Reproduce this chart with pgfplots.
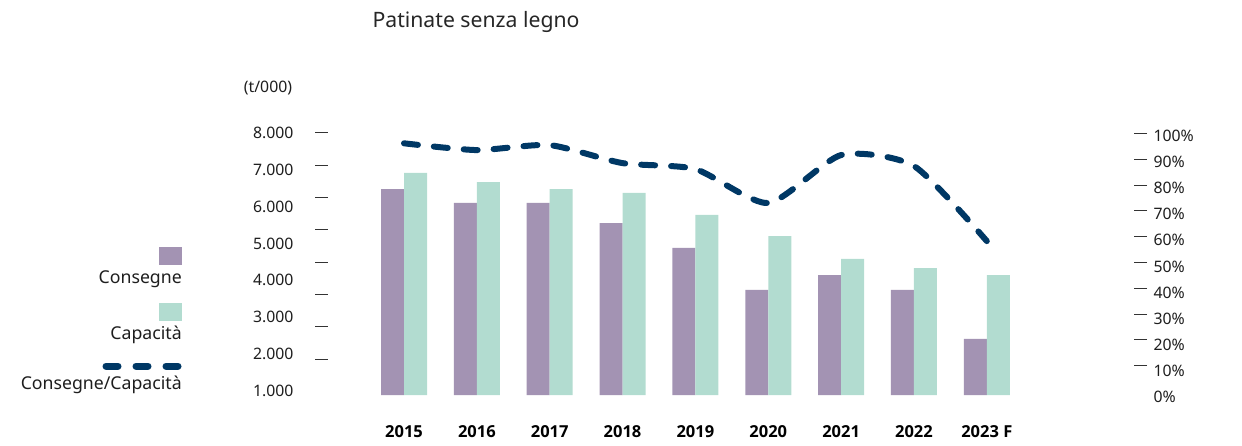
\documentclass[border=0pt]{standalone}
\usepackage{pgfplots}
\pgfplotsset{compat=1.18}
\usepackage{fontspec}
\setmainfont{Noto Sans}
\newfontfamily\yrfont{Open Sans}
\definecolor{cons}{RGB}{163,147,179}
\definecolor{capa}{RGB}{178,220,208}
\definecolor{ratio}{RGB}{0,56,101}
\definecolor{txt}{RGB}{30,30,30}
\begin{document}
\begin{tikzpicture}[x=1pt,y=1pt,font=\fontsize{15}{18}\selectfont]
\useasboundingbox (0,0) rectangle (1242,445);
\begin{axis}[
  at={(328pt,50pt)}, anchor=south west,
  scale only axis, width=806pt, height=275pt,
  xmin=-1.0432, xmax=10.0206,
  ymin=891.6, ymax=8344,
  axis line style={draw=none},
  ybar=0pt, bar width=23pt,
  xtick={0,...,8},
  xticklabels={2015,2016,2017,2018,2019,2020,2021,2022,2023 F},
  xticklabel style={font=\yrfont\bfseries\fontsize{16.5}{19}\selectfont, text=black, yshift=-27pt},
  ytick={1000,2000,...,8000},
  yticklabels={1.000,2.000,3.000,4.000,5.000,6.000,7.000,8.000},
  yticklabel style={font=\fontsize{15.8}{18}\selectfont, text=txt, xshift=-31pt},
  ytick pos=left, xtick pos=bottom,
  major tick length=0pt,
  extra y ticks={8000,7124,6248,5372,4496,3620,2744,1868},
  extra y tick labels={},
  extra y tick style={major tick length=13pt, tick align=outside, tick style={line width=0.9pt, black!80}},
]
\addplot[fill=cons, draw=none] coordinates {(0,6470)(1,6100)(2,6100)(3,5550)(4,4880)(5,3740)(6,4140)(7,3740)(8,2410)};
\addplot[fill=capa, draw=none] coordinates {(0,6910)(1,6660)(2,6470)(3,6370)(4,5770)(5,5200)(6,4580)(7,4330)(8,4140)};
\end{axis}
\begin{axis}[
  at={(328pt,48.3pt)}, anchor=south west,
  scale only axis, width=806pt, height=276.7pt,
  xmin=-1.0432, xmax=10.0206,
  ymin=0, ymax=106.14,
  axis line style={draw=none},
  xtick=\empty,
  ytick={0,10,...,100},
  yticklabels={0\%,10\%,20\%,30\%,40\%,50\%,60\%,70\%,80\%,90\%,100\%},
  yticklabel style={font=\fontsize{15.8}{18}\selectfont, text=txt, xshift=16pt},
  ytick pos=right,
  major tick length=0pt,
  extra y ticks={101,91.1,81.2,71.3,61.4,51.5,41.6,31.7,21.8,11.9},
  extra y tick labels={},
  extra y tick style={major tick length=13pt, tick align=outside, tick style={line width=0.9pt, black!80}},
]
\addplot[ratio, line width=6pt, dash pattern=on 14pt off 16pt, line cap=round, smooth, tension=0.4] coordinates {(0,97.2)(1,94.6)(2,96.5)(3,89.6)(4,87.3)(5,74.3)(6,92.7)(7,88.5)(8,59.7)};
\end{axis}
% legend
\fill[cons] (159,180) rectangle (182,198);
\node[anchor=east, inner sep=0pt, text=txt, font=\fontsize{17.7}{20}\selectfont] at (182,166) {Consegne};
\fill[capa] (159,124) rectangle (182,142);
\node[anchor=east, inner sep=0pt, text=txt, font=\fontsize{17.7}{20}\selectfont] at (182,110) {Capacità};
\draw[ratio, line width=7pt, line cap=round, dash pattern=on 12pt off 18pt] (106,79) -- (182,79);
\node[anchor=east, inner sep=0pt, text=txt, font=\fontsize{17.7}{20}\selectfont] at (182,60) {Consegne/Capacità};
% titles
\node[text=black!85, font=\fontsize{21.2}{25}\selectfont] at (476,423) {Patinate senza legno};
\node[text=txt, font=\fontsize{15.8}{18}\selectfont] at (268,357) {(t/000)};
\end{tikzpicture}
\end{document}
